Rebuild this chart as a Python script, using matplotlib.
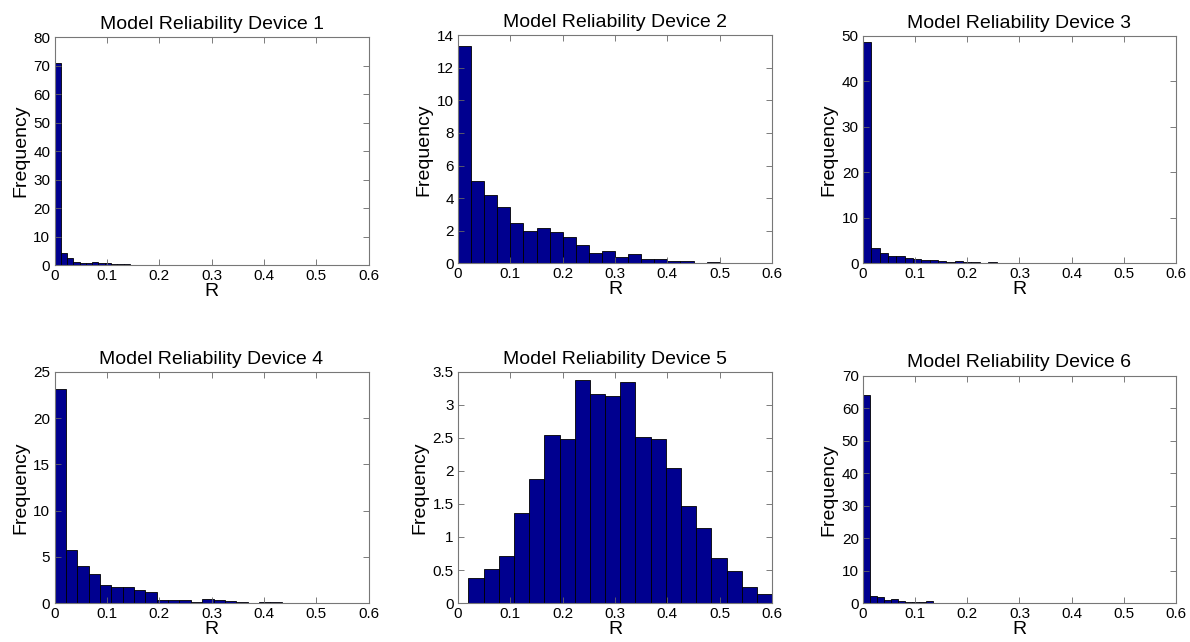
import numpy as np
import matplotlib.pyplot as plt

plt.rcParams['font.family'] = ['Liberation Sans', 'DejaVu Sans']

# normalised histogram heights per device, 20 bins over [lo, hi]
titles = ['Model Reliability Device %d' % i for i in range(1, 7)]

bin_ranges = [(0.0, 0.24), (0.0, 0.5), (0.0, 0.32),
              (0.0, 0.434), (0.02, 0.6), (0.0, 0.268)]

dev1 = [71.0, 4.4, 2.6, 1.1, 0.8, 0.6, 1.0, 0.6, 0.8, 0.5,
        0.4, 0.25, 0.15, 0.15, 0.1, 0.0, 0.0, 0.0, 0.0, 0.2]
dev2 = [13.34, 5.08, 4.2, 3.44, 2.44, 1.95, 2.15, 1.9, 1.64, 1.13,
        0.64, 0.74, 0.37, 0.55, 0.27, 0.27, 0.14, 0.12, 0.04, 0.08]
dev3 = [48.7, 3.3, 2.3, 1.55, 1.55, 1.25, 0.9, 0.66, 0.66, 0.44,
        0.3, 0.5, 0.37, 0.22, 0.15, 0.22, 0.0, 0.0, 0.0, 0.1]
dev4 = [23.1, 5.76, 3.96, 3.17, 1.91, 1.69, 1.69, 1.37, 1.15, 0.36,
        0.36, 0.36, 0.07, 0.47, 0.29, 0.22, 0.14, 0.0, 0.14, 0.14]
dev5 = [0.38, 0.51, 0.71, 1.37, 1.88, 2.55, 2.48, 3.37, 3.16, 3.13,
        3.34, 2.52, 2.48, 2.04, 1.47, 1.13, 0.68, 0.48, 0.24, 0.14]
dev6 = [64.2, 2.3, 1.8, 1.0, 1.3, 0.7, 0.4, 0.25, 0.4, 0.6,
        0.15, 0.1, 0.1, 0.1, 0.05, 0.0, 0.0, 0.1, 0.0, 0.1]
counts = [dev1, dev2, dev3, dev4, dev5, dev6]

y_max = [80, 14, 50, 25, 3.5, 70]
y_step = [10, 2, 10, 5, 0.5, 10]
x_ticks = [0, 0.1, 0.2, 0.3, 0.4, 0.5, 0.6]

# axes boxes in figure fractions [left, bottom, width, height]
boxes = [[0.0458, 0.587, 0.2639, 0.355],
         [0.3849, 0.590, 0.2639, 0.355],
         [0.7252, 0.590, 0.2630, 0.354],
         [0.0458, 0.0607, 0.2639, 0.360],
         [0.3849, 0.0607, 0.2639, 0.360],
         [0.7252, 0.0607, 0.2630, 0.354]]

bar_color = (0, 0, 0.5625)

fig = plt.figure(figsize=(11.9, 6.42), dpi=100)

for i in range(6):
    ax = fig.add_axes(boxes[i])
    lo, hi = bin_ranges[i]
    vals = counts[i]
    edges = np.linspace(lo, hi, len(vals) + 1)
    ax.bar(edges[:-1], vals, width=np.diff(edges), align='edge',
           color=bar_color, edgecolor='black', linewidth=0.6)

    ax.set_xlim(0, 0.6)
    ax.set_ylim(0, y_max[i])
    ax.set_xticks(x_ticks)
    ax.set_xticklabels(['0'] + ['%.1f' % t for t in x_ticks[1:]])
    yt = np.arange(0, y_max[i] + y_step[i] / 2, y_step[i])
    ax.set_yticks(yt)
    ax.set_yticklabels(['%g' % t for t in yt])

    ax.tick_params(direction='in', top=True, right=True, length=4,
                   width=0.6, labelsize=11, pad=3, colors='black')
    ax.tick_params(color='#666666')
    for s in ax.spines.values():
        s.set_color('#777777')
        s.set_linewidth(0.8)

    ax.set_title(titles[i], fontsize=14, pad=6)
    ax.set_xlabel('R', fontsize=14, labelpad=0)
    ax.set_ylabel('Frequency', fontsize=14, labelpad=3)

fig.savefig('out.png', dpi=100)
